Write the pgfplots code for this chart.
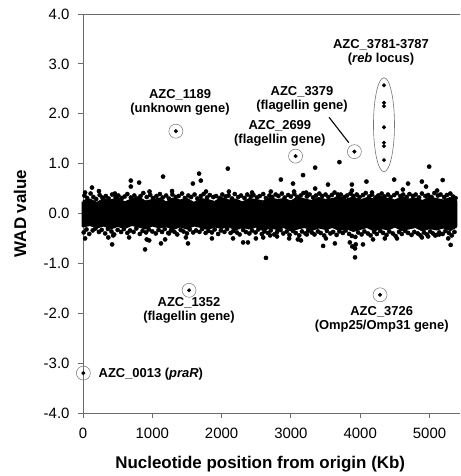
\documentclass[border=0pt]{standalone}
\usepackage{fontspec}
\setmainfont{Liberation Sans}
\usepackage{pgfplots}
\usepackage{pgfplotstable}
\pgfplotsset{compat=1.18}
\definecolor{axgray}{gray}{0.42}
\definecolor{ringgray}{gray}{0.45}
\newcommand\annfont{\fontsize{13}{14}\selectfont\bfseries}

% dense core of the WAD cloud: upper edge left->right, lower edge right->left
\pgfplotstableread{
x y
0 0.24
100 0.27
200 0.20
300 0.28
400 0.25
500 0.30
600 0.21
700 0.27
800 0.31
900 0.23
1000 0.26
1100 0.29
1200 0.21
1300 0.29
1400 0.25
1500 0.28
1600 0.20
1700 0.28
1800 0.26
1900 0.22
2000 0.30
2100 0.25
2200 0.27
2300 0.21
2400 0.28
2500 0.26
2600 0.23
2700 0.30
2800 0.26
2900 0.28
3000 0.23
3100 0.31
3200 0.27
3300 0.24
3400 0.30
3500 0.26
3600 0.28
3700 0.32
3800 0.27
3900 0.31
4000 0.25
4100 0.30
4200 0.27
4300 0.32
4400 0.28
4500 0.25
4600 0.31
4700 0.27
4800 0.29
4900 0.24
5000 0.31
5100 0.28
5200 0.25
5300 0.30
5380 0.25
5380 -0.26
5300 -0.32
5200 -0.27
5100 -0.31
5000 -0.28
4900 -0.33
4800 -0.26
4700 -0.29
4600 -0.32
4500 -0.25
4400 -0.31
4300 -0.28
4200 -0.33
4100 -0.26
4000 -0.30
3900 -0.34
3800 -0.28
3700 -0.32
3600 -0.26
3500 -0.30
3400 -0.27
3300 -0.32
3200 -0.26
3100 -0.29
3000 -0.33
2900 -0.26
2800 -0.30
2700 -0.27
2600 -0.32
2500 -0.25
2400 -0.29
2300 -0.26
2200 -0.31
2100 -0.24
2000 -0.28
1900 -0.25
1800 -0.30
1700 -0.26
1600 -0.23
1500 -0.29
1400 -0.25
1300 -0.30
1200 -0.24
1100 -0.27
1000 -0.23
900 -0.29
800 -0.25
700 -0.22
600 -0.28
500 -0.24
400 -0.29
300 -0.23
200 -0.27
100 -0.22
0 -0.25
0 0.24
}\band

% genes at the ragged edge of the cloud
\pgfplotstableread{
x y
20 0.36
60 0.31
110 0.40
150 0.33
190 0.29
240 0.37
280 0.32
330 0.35
370 0.30
420 0.38
470 0.33
510 0.36
560 0.31
600 0.34
640 0.39
690 0.32
740 0.36
780 0.30
830 0.35
870 0.41
920 0.33
970 0.37
1010 0.31
1060 0.35
1110 0.39
1150 0.32
1200 0.36
1240 0.30
1290 0.38
1340 0.33
1380 0.35
1430 0.40
1470 0.31
1520 0.36
1560 0.33
1610 0.38
1650 0.30
1700 0.35
1740 0.39
1790 0.32
1830 0.37
1880 0.33
1920 0.35
1970 0.31
2010 0.38
2060 0.34
2100 0.36
2150 0.30
2190 0.39
2240 0.33
2280 0.36
2330 0.31
2370 0.38
2420 0.34
2460 0.37
2510 0.32
2550 0.35
2600 0.39
2640 0.31
2690 0.36
2730 0.33
2780 0.38
2820 0.35
2870 0.40
2910 0.32
2960 0.37
3000 0.34
3050 0.39
3090 0.33
3140 0.36
3180 0.41
3230 0.34
3270 0.38
3320 0.32
3360 0.36
3410 0.40
3450 0.35
3500 0.38
3540 0.33
3590 0.37
3630 0.42
3680 0.34
3720 0.38
3770 0.33
3810 0.36
3860 0.40
3900 0.35
3950 0.38
3990 0.33
4040 0.37
4080 0.41
4130 0.34
4170 0.38
4220 0.32
4260 0.36
4310 0.40
4350 0.34
4400 0.38
4440 0.33
4490 0.37
4530 0.41
4580 0.35
4620 0.38
4670 0.33
4710 0.39
4760 0.35
4800 0.38
4850 0.32
4890 0.40
4940 0.35
4980 0.37
5030 0.33
5070 0.41
5120 0.36
5160 0.38
5210 0.33
5250 0.37
5300 0.40
5340 0.34
5375 0.31
10 -0.38
50 -0.32
90 -0.41
140 -0.34
180 -0.30
230 -0.37
270 -0.33
320 -0.40
360 -0.31
410 -0.36
450 -0.42
500 -0.33
550 -0.37
590 -0.31
640 -0.39
680 -0.34
730 -0.37
770 -0.30
820 -0.41
860 -0.35
910 -0.38
950 -0.32
1000 -0.36
1050 -0.40
1090 -0.33
1140 -0.37
1180 -0.31
1230 -0.39
1270 -0.34
1320 -0.37
1360 -0.42
1410 -0.33
1450 -0.36
1500 -0.40
1540 -0.32
1590 -0.38
1630 -0.34
1680 -0.37
1720 -0.31
1770 -0.39
1810 -0.35
1860 -0.38
1900 -0.32
1950 -0.41
1990 -0.34
2040 -0.37
2080 -0.31
2130 -0.39
2170 -0.35
2220 -0.38
2260 -0.42
2310 -0.33
2350 -0.37
2400 -0.40
2440 -0.34
2490 -0.38
2530 -0.32
2580 -0.41
2620 -0.36
2670 -0.39
2710 -0.34
2760 -0.42
2800 -0.37
2850 -0.33
2890 -0.40
2940 -0.36
2980 -0.43
3030 -0.35
3070 -0.39
3120 -0.44
3160 -0.36
3210 -0.40
3250 -0.34
3300 -0.38
3340 -0.42
3390 -0.36
3430 -0.39
3480 -0.44
3520 -0.35
3570 -0.40
3610 -0.37
3660 -0.43
3700 -0.36
3750 -0.39
3790 -0.34
3840 -0.41
3880 -0.45
3930 -0.47
3970 -0.38
4020 -0.42
4060 -0.36
4110 -0.40
4150 -0.44
4200 -0.37
4240 -0.41
4290 -0.35
4330 -0.39
4380 -0.43
4420 -0.36
4470 -0.40
4510 -0.45
4560 -0.37
4600 -0.41
4650 -0.35
4690 -0.39
4740 -0.43
4780 -0.37
4830 -0.40
4870 -0.44
4920 -0.38
4960 -0.42
5010 -0.36
5050 -0.40
5100 -0.43
5140 -0.38
5190 -0.41
5230 -0.35
5280 -0.39
5320 -0.44
5360 -0.37
}\edge

% scattered genes outside the cloud
\pgfplotstableread{
x y
30 0.42
130 0.52
230 0.45
460 0.40
690 0.66
690 0.54
810 0.62
960 0.44
1155 0.74
1285 0.45
1585 0.60
1675 0.80
1700 0.66
1775 0.44
2090 0.90
2105 0.44
2440 0.42
2710 0.44
2855 0.68
3030 0.60
3045 0.44
3175 0.77
3220 0.42
3350 0.92
3350 0.50
3535 0.58
3680 0.38
3700 1.03
3880 0.58
3880 0.46
4090 0.64
4170 0.42
4490 0.68
4615 0.48
4690 0.60
4890 0.64
4950 0.54
4995 0.94
5110 0.46
5190 0.67
30 -0.50
365 -0.48
420 -0.62
435 -0.44
665 -0.48
895 -0.72
920 -0.52
955 -0.54
1125 -0.60
1185 -0.52
1240 -0.40
1485 -0.48
1515 -0.60
1860 -0.50
2165 -0.50
2310 -0.58
2380 -0.58
2495 -0.50
2600 -0.48
2640 -0.89
2700 -0.44
2800 -0.46
2975 -0.50
3100 -0.52
3145 -0.54
3230 -0.42
3465 -0.65
3505 -0.50
3635 -0.60
3850 -0.58
3885 -0.66
3925 -0.70
3925 -0.88
3935 -0.62
4040 -0.62
4185 -0.52
4355 -0.50
4530 -0.50
4890 -0.48
4980 -0.46
5080 -0.44
5140 -0.42
5270 -0.50
5305 -0.63
}\outl

% labelled genes
\pgfplotstableread{
x y
5 -3.20
1340 1.65
1530 -1.54
3067 1.15
3916 1.24
4286 -1.63
}\hits

\pgfplotstableread{
x y
4343 2.57
4343 2.22
4343 2.15
4343 1.73
4343 1.42
4343 1.35
4343 1.07
}\reb

\begin{document}
\begin{tikzpicture}
\begin{axis}[
  name=ax,
  scale only axis,
  width=377bp, height=399bp,
  xmin=0, xmax=5440, ymin=-4, ymax=4,
  axis x line*=bottom, axis y line*=left,
  axis line style={axgray, line width=0.9pt},
  tick align=outside,
  major tick length=5bp,
  tick style={axgray, line width=0.9pt},
  xtick={0,1000,...,5000},
  ytick={-4,-3,...,4},
  /pgf/number format/assume math mode=true,
  xticklabel style={/pgf/number format/1000 sep={}, yshift=-7bp},
  yticklabel style={/pgf/number format/.cd, fixed, fixed zerofill, precision=1, /tikz/.cd, xshift=-5bp},
  tick label style={font=\fontsize{15}{15}\selectfont},
  xlabel={Nucleotide position from origin (Kb)},
  ylabel={WAD value},
  label style={font=\fontsize{17}{17}\selectfont\bfseries},
  xlabel style={at={(axis description cs:0.47,-0.128)}, anchor=center},
  ylabel style={at={(axis description cs:-0.167,0.5)}, anchor=center},
  clip=false,
]
\draw[axgray, line width=0.9pt] (rel axis cs:0,1) -- (rel axis cs:1,1);

\addplot[fill=black, draw=black, line width=3bp, line join=round] table {\band};
\addplot[only marks, mark=*, mark size=2.1bp, black] table {\edge};
\addplot[only marks, mark=*, mark size=2.1bp, black] table {\outl};
\addplot[only marks, mark=*, mark size=1.8bp, black] table {\hits};
\addplot[only marks, mark=*, mark size=1.8bp, black] table {\reb};
\addplot[only marks, mark=o, mark size=7bp, mark options={draw=ringgray, line width=0.5pt}] table {\hits};

\draw[ringgray, line width=0.6pt] (axis cs:4343,1.78) ellipse [x radius=10.5bp, y radius=47bp];
\draw[black, line width=1.1pt] (axis cs:3550,1.93) -- (axis cs:3835,1.42);

\node[font=\annfont, align=center] at (axis cs:1400,2.22) {AZC\_1189\\(unknown gene)};
\node[font=\annfont, align=center] at (axis cs:2840,1.60) {AZC\_2699\\(flagellin gene)};
\node[font=\annfont, align=center] at (axis cs:3160,2.28) {AZC\_3379\\(flagellin gene)};
\node[font=\annfont, align=center] at (axis cs:4300,3.24) {AZC\_3781-3787\\(\textit{reb} locus)};
\node[font=\annfont, align=center] at (axis cs:1530,-1.95) {AZC\_1352\\(flagellin gene)};
\node[font=\annfont, align=center] at (axis cs:4310,-2.12) {AZC\_3726\\(Omp25/Omp31 gene)};
\node[font=\annfont, anchor=west] at (axis cs:175,-3.22) {AZC\_0013 (\textit{praR})};
\end{axis}
\pgfresetboundingbox
\path[use as bounding box] ([xshift=-83bp,yshift=-63bp]ax.south west) rectangle ([yshift=14bp]ax.north east);
\end{tikzpicture}
\end{document}
